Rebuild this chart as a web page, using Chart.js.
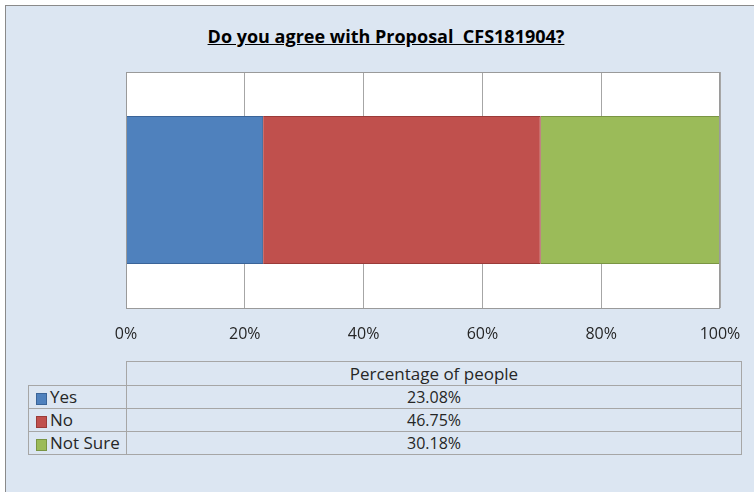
<!DOCTYPE html>
<html>
<head>
<meta charset="utf-8">
<script src="https://cdn.jsdelivr.net/npm/chart.js@4.4.0/dist/chart.umd.min.js"></script>
<style>
  html, body { margin: 0; padding: 0; background: #fff; }
  body { width: 754px; height: 492px; overflow: hidden; position: relative; font-family: "Open Sans", sans-serif; }
  #frame { position: absolute; left: 5px; top: 5px; width: 800px; height: 500px; background: #dce6f2;
           border-left: 1px solid #8a8a8a; border-top: 1px solid #8a8a8a; }
  #title { position: absolute; left: 0; top: 24px; width: 772px; text-align: center;
           font: bold 18px "Open Sans", sans-serif; color: #000; text-decoration: underline; }
  #chart { position: absolute; left: 0; top: 0; }
  #table { position: absolute; left: 28px; top: 361px; border-collapse: collapse; table-layout: fixed;
           font: 17px "Open Sans", sans-serif; color: #262626; }
  #table td { border: 1px solid #a6a6a6; padding: 0; height: 22px; line-height: 20px; white-space: nowrap; }
  #table td.val { text-align: center; }
  #table td.num { font-size: 16px; }
  #table td.blank { border: none; border-bottom: 1px solid #a6a6a6; }
  #table td.key { padding-left: 8px; }
  .sw { display: inline-block; width: 9px; height: 10px; margin-right: 4px; vertical-align: -1px; }
</style>
</head>
<body>
<div id="frame"></div>
<div id="title">Do you agree with Proposal&nbsp; CFS181904?</div>
<canvas id="chart" width="754" height="356"></canvas>
<table id="table"></table>
<script>
const seriesNames = ['Yes', 'No', 'Not Sure'];
const seriesValues = [23.08, 46.75, 30.18];
const seriesColors = ['#4f81bd', '#c0504d', '#9bbb59'];
const seriesEdges = ['#3a6498', '#9a3b39', '#7a9543'];
const category = ['Percentage of people'];
const tickValues = [0, 20, 40, 60, 80, 100];

// white plot area with a grey frame, like the spreadsheet default
const plotBox = {
    id: 'plotBox',
    beforeDraw(chart) {
        const a = chart.chartArea;
        const c = chart.ctx;
        c.save();
        c.fillStyle = '#ffffff';
        c.fillRect(a.left, a.top, a.right - a.left, a.bottom - a.top);
        c.restore();
    },
    afterDraw(chart) {
        const a = chart.chartArea;
        const c = chart.ctx;
        c.save();
        c.strokeStyle = '#9a9a9a';
        c.lineWidth = 1;
        c.strokeRect(a.left + 0.5, a.top + 0.5, a.right - a.left - 1, a.bottom - a.top);
        c.restore();
    }
};

const datasets = seriesNames.map((name, i) => ({
    label: name,
    data: [seriesValues[i]],
    backgroundColor: seriesColors[i],
    borderColor: seriesEdges[i],
    borderWidth: 1,
    categoryPercentage: 1,
    barPercentage: 0.627
}));

new Chart(document.getElementById('chart'), {
    type: 'bar',
    data: { labels: category, datasets: datasets },
    options: {
        indexAxis: 'y',
        responsive: false,
        animation: false,
        layout: { padding: { left: 126, right: 34, top: 72, bottom: 0 } },
        plugins: {
            legend: { display: false },
            tooltip: { enabled: false },
            title: { display: false }
        },
        scales: {
            x: {
                stacked: true,
                min: 0,
                max: 100,
                afterBuildTicks(scale) {
                    scale.ticks = tickValues.map(v => ({ value: v }));
                },
                afterFit(scale) {
                    scale.height = 48;
                    scale.paddingLeft = 0;
                    scale.paddingRight = 0;
                },
                grid: { color: '#a6a6a6', drawTicks: false },
                border: { display: false },
                ticks: {
                    padding: 17,
                    color: '#262626',
                    font: { family: 'Open Sans', size: 16 },
                    callback: v => v + '%'
                }
            },
            y: {
                stacked: true,
                display: false
            }
        }
    },
    plugins: [plotBox]
});

// data table under the axis
const table = document.getElementById('table');
let html = '<colgroup><col style="width:98px"><col style="width:615px"></colgroup>';
html += '<tr><td class="blank"></td><td class="val" style="height:23px">' + category[0] + '</td></tr>';
seriesNames.forEach((name, i) => {
    html += '<tr><td class="key"><span class="sw" style="background:' + seriesColors[i] +
            ';outline:1px solid ' + seriesEdges[i] + '"></span>' + name + '</td>' +
            '<td class="val num">' + seriesValues[i].toFixed(2) + '%</td></tr>';
});
table.innerHTML = html;
</script>
</body>
</html>
